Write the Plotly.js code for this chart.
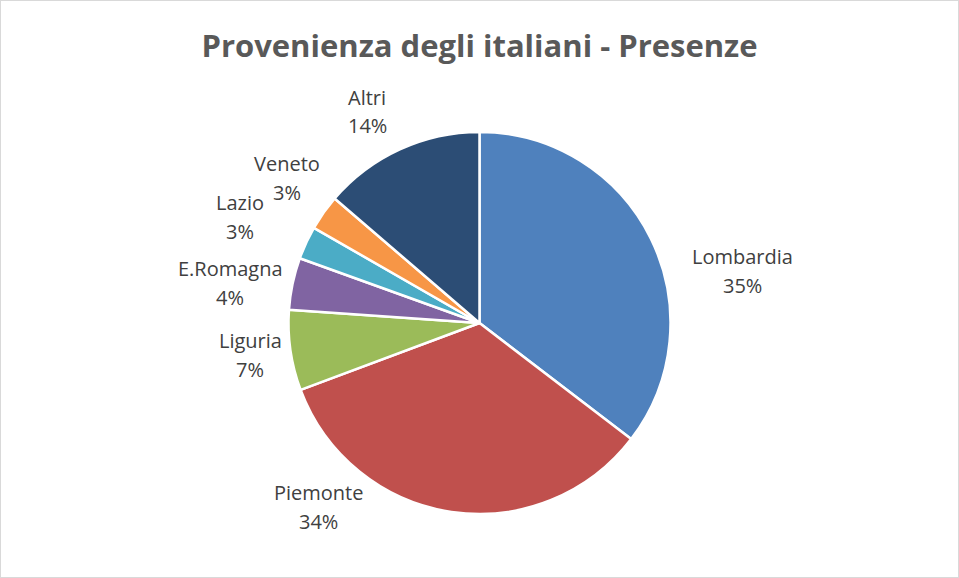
<!DOCTYPE html>
<html>
<head>
<meta charset="utf-8">
<script src="https://cdn.plot.ly/plotly-3.0.1.min.js"></script>
<style>
html,body{margin:0;padding:0;background:#fff;}
#chart{width:959px;height:578px;box-sizing:border-box;border:1px solid #d9d9d9;}
</style>
</head>
<body>
<div id="chart"></div>
<script>
const categories = ["Lombardia", "Piemonte", "Liguria", "E.Romagna", "Lazio", "Veneto", "Altri"];
const values = [35.4, 33.9, 6.8, 4.4, 2.8, 3.0, 13.7];
const colors = ["#4F81BD", "#C0504D", "#9BBB59", "#8064A2", "#4BACC6", "#F79646", "#2C4D75"];
const chartTitle = "Provenienza degli italiani - Presenze";
// label placement (pixel centres of the name line), styling only
const labelPx = [[742, 256], [318, 492], [250, 340], [230, 268], [240, 202], [287, 163], [367, 97]];

const W = 957, H = 576;
const M = {l: 0, r: 0, t: 131, b: 63};
const total = values.reduce((a, b) => a + b, 0);
const fontFam = "Open Sans, sans-serif";
const toPaperX = px => (px - 1 - M.l) / (W - M.l - M.r);
const toPaperY = py => 1 - (py - 1 - M.t) / (H - M.t - M.b);

const annotations = [];
categories.forEach((c, i) => {
  const pct = Math.round(values[i] / total * 100) + "%";
  const [px, py] = labelPx[i];
  annotations.push({text: c, x: toPaperX(px), y: toPaperY(py), xref: "paper", yref: "paper",
    xanchor: "center", yanchor: "middle", showarrow: false,
    font: {family: fontFam, size: 20, color: "#404040"}});
  annotations.push({text: pct, x: toPaperX(px), y: toPaperY(py + 29), xref: "paper", yref: "paper",
    xanchor: "center", yanchor: "middle", showarrow: false,
    font: {family: fontFam, size: 20, color: "#404040"}});
});

const trace = {
  type: "pie",
  labels: categories,
  values: values,
  sort: false,
  direction: "clockwise",
  rotation: 0,
  marker: {colors: colors, line: {color: "#ffffff", width: 2.5}},
  textinfo: "none",
  hoverinfo: "none",
  showlegend: false
};

const layout = {
  width: W, height: H,
  margin: M,
  paper_bgcolor: "#ffffff",
  title: {
    text: "<b>" + chartTitle + "</b>",
    font: {family: fontFam, size: 31, color: "#595959"},
    x: 0.5, xanchor: "center", y: 0.921, yanchor: "middle", yref: "container"
  },
  annotations: annotations,
  showlegend: false
};

Plotly.newPlot("chart", [trace], layout, {displayModeBar: false, staticPlot: true});
</script>
</body>
</html>
